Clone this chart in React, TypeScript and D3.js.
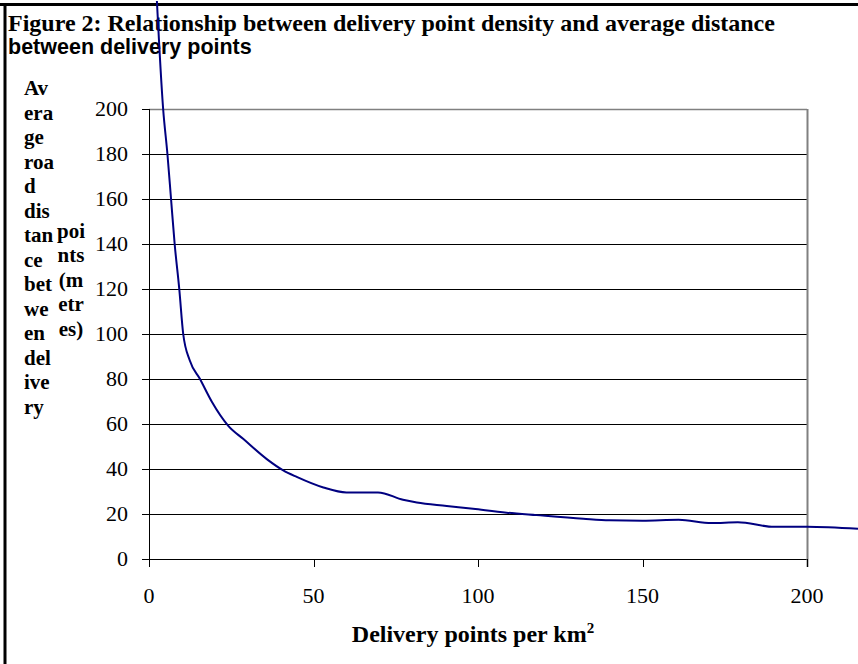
import React from "react";
import * as d3 from "d3";

const density = [2.4, 4.3, 5.6, 6.7, 7.8, 9.2, 10.4, 12.4, 15.5, 19.1, 24.1, 28.7, 35.8, 40.8, 44.9, 53, 60, 69.6, 77.2, 81.4, 90.5, 98.5, 108.7, 117.8, 132, 140, 150, 161, 171, 179, 190, 200, 215.5];
const distance = [248, 200, 180, 160, 140, 120, 100, 88.2, 80, 69.9, 59.2, 53.3, 44.4, 39.4, 36.5, 31.8, 29.6, 29.6, 26.3, 25.1, 23.6, 22.3, 20.6, 19.5, 17.9, 17.2, 17, 17.4, 16, 16.3, 14.3, 14.3, 13.4];

const xTicks = [0, 50, 100, 150, 200];
const yTicks = [0, 20, 40, 60, 80, 100, 120, 140, 160, 180, 200];

const titleLine1 = "Figure 2: Relationship between delivery point density and average distance";
const titleLine2 = "between delivery points";
const yLabelA = ["Av", "era", "ge", "roa", "d", "dis", "tan", "ce", "bet", "we", "en", "del", "ive", "ry"];
const yLabelB = ["poi", "nts", "(m", "etr", "es)"];
const xLabel = "Delivery points per km";

const W = 858;
const H = 664;

export default function App() {
  const x = d3.scaleLinear().domain([0, 200]).range([149, 807]);
  const y = d3.scaleLinear().domain([0, 200]).range([559, 109]);
  const pts: [number, number][] = density.map((d, i) => [d, distance[i]]);
  const line = d3
    .line<[number, number]>()
    .x((d) => x(d[0]))
    .y((d) => y(d[1]))
    .curve(d3.curveMonotoneX);

  const serif = "'Liberation Serif', 'Times New Roman', serif";
  const sans = "'Liberation Sans', Arial, sans-serif";
  const px = (v: number) => Math.round(v) + 0.5;

  return (
    <svg
      width={W}
      height={H}
      style={{ position: "absolute", left: 0, top: 0, background: "#fff" }}
    >
      <rect x={0} y={0} width={W} height={H} fill="#fff" />
      {/* frame */}
      <line x1={0} x2={W} y1={4.5} y2={4.5} stroke="#000" strokeWidth={3} />
      <line x1={5} x2={5} y1={3} y2={H} stroke="#000" strokeWidth={3} />

      {/* title */}
      <text x={8} y={31} fontFamily={serif} fontWeight="bold" fontSize={24}>
        {titleLine1}
      </text>
      <text x={8} y={54} fontFamily={sans} fontWeight="bold" fontSize={21.5}>
        {titleLine2}
      </text>

      {/* gridlines */}
      {yTicks.map((t) => (
        <line
          key={"g" + t}
          x1={x(0)}
          x2={x(200)}
          y1={px(y(t))}
          y2={px(y(t))}
          stroke={t === 200 ? "#808080" : "#000"}
          strokeWidth={t === 200 ? 1.5 : 1}
        />
      ))}
      <line x1={px(x(200))} x2={px(x(200))} y1={y(200)} y2={y(0) + 8} stroke="#808080" strokeWidth={2} />

      {/* y axis */}
      <line x1={px(x(0))} x2={px(x(0))} y1={y(200)} y2={y(0) + 8} stroke="#000" strokeWidth={1} />
      {yTicks.map((t) => (
        <g key={"yt" + t}>
          <line x1={x(0) - 7} x2={x(0)} y1={px(y(t))} y2={px(y(t))} stroke="#000" />
          <text x={128} y={y(t) + 7} textAnchor="end" fontFamily={serif} fontSize={22}>
            {t}
          </text>
        </g>
      ))}

      {/* x axis */}
      {xTicks.map((t) => (
        <g key={"xt" + t}>
          <line x1={px(x(t))} x2={px(x(t))} y1={y(0)} y2={y(0) + 8} stroke="#000" />
          <text x={x(t)} y={603} textAnchor="middle" fontFamily={serif} fontSize={22}>
            {t}
          </text>
        </g>
      ))}

      {/* y label */}
      {yLabelA.map((s, i) => (
        <text key={"a" + i} x={24} y={95 + i * 24.5} fontFamily={serif} fontWeight="bold" fontSize={21}>
          {s}
        </text>
      ))}
      {yLabelB.map((s, i) => (
        <text key={"b" + i} x={71} y={95 + (i + 6) * 24.5 - 4.5} textAnchor="middle" fontFamily={serif} fontWeight="bold" fontSize={21}>
          {s}
        </text>
      ))}

      {/* x label */}
      <text x={473} y={642} textAnchor="middle" fontFamily={serif} fontWeight="bold" fontSize={24}>
        {xLabel}
        <tspan dy={-9} fontSize={15}>2</tspan>
      </text>

      {/* curve */}
      <path d={line(pts) || ""} fill="none" stroke="#000080" strokeWidth={2} />
    </svg>
  );
}
